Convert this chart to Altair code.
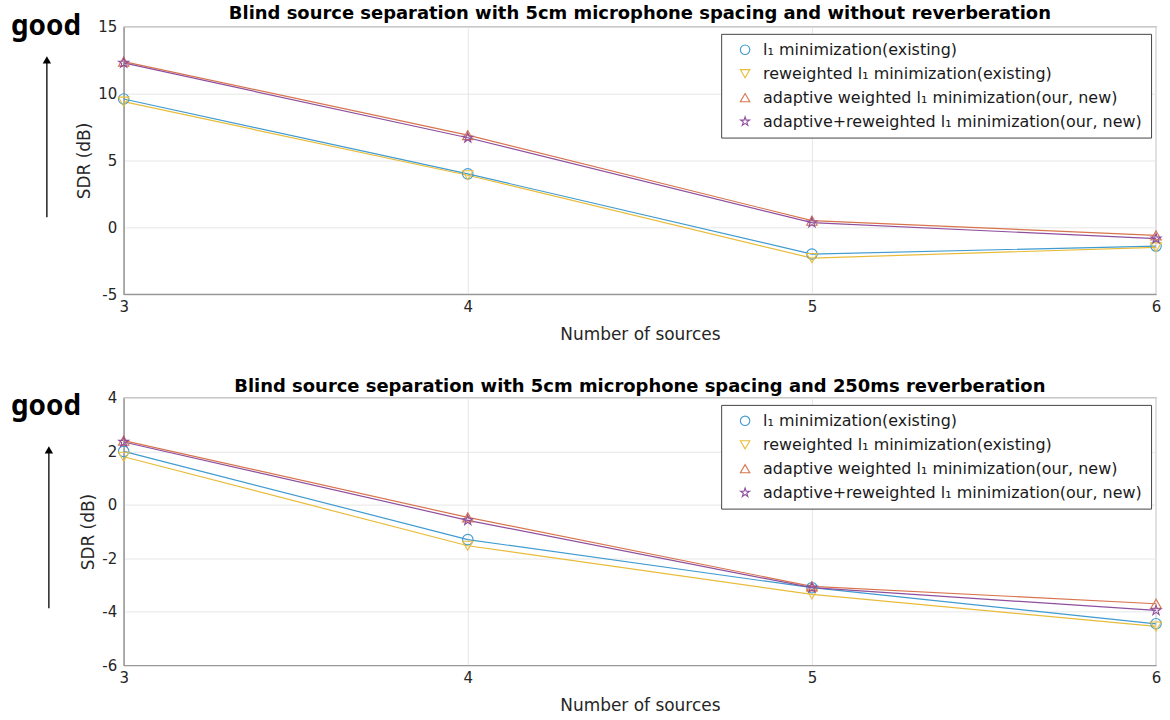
import altair as alt
import pandas as pd

sources = [3, 4, 5, 6]
series_names = [
    "l₁ minimization(existing)",
    "reweighted l₁ minimization(existing)",
    "adaptive weighted l₁ minimization(our, new)",
    "adaptive+reweighted l₁ minimization(our, new)",
]
colors = ["#3f9bd0", "#e8bc3a", "#d8744c", "#8e4f9e"]
star = "M0,-1L0.2245,-0.309L0.951,-0.309L0.363,0.118L0.588,0.809L0,0.382L-0.588,0.809L-0.363,0.118L-0.951,-0.309L-0.2245,-0.309Z"
shapes = ["circle", "triangle-down", "triangle-up", star]

# panel 1: no reverberation
p1_l1 = [9.6, 4.0, -2.0, -1.4]
p1_rw = [9.4, 3.9, -2.3, -1.5]
p1_ad = [12.4, 6.9, 0.5, -0.6]
p1_adrw = [12.3, 6.7, 0.35, -0.85]

# panel 2: 250ms reverberation
p2_l1 = [2.0, -1.3, -3.1, -4.45]
p2_rw = [1.8, -1.53, -3.35, -4.55]
p2_ad = [2.4, -0.47, -3.05, -3.7]
p2_adrw = [2.35, -0.58, -3.1, -3.95]

titles = [
    "Blind source separation with 5cm microphone spacing and without reverberation",
    "Blind source separation with 5cm microphone spacing and 250ms reverberation",
]

W, H = 1035, 268


def make_df(vals):
    rows = []
    for name, v in zip(series_names, vals):
        for x, y in zip(sources, v):
            rows.append({"n": x, "sdr": y, "series": name})
    return pd.DataFrame(rows)


def panel(vals, title, ydom, yvals, good_y, arrow_x, arrow_top, arrow_bottom, toff):
    df = make_df(vals)
    xenc = alt.X("n:Q", title="Number of sources",
                 scale=alt.Scale(domain=[3, 6], nice=False),
                 axis=alt.Axis(values=sources, labelExpr="toString(datum.value)",
                               labelFlush=False))
    yenc = alt.Y("sdr:Q", title="SDR (dB)",
                 scale=alt.Scale(domain=ydom, nice=False),
                 axis=alt.Axis(values=yvals, labelExpr="toString(datum.value)",
                               labelFlush=False))
    cscale = alt.Scale(domain=series_names, range=colors)
    sscale = alt.Scale(domain=series_names, range=shapes)
    base = alt.Chart(df)
    lines = base.mark_line(strokeWidth=1.2).encode(
        x=xenc, y=yenc,
        color=alt.Color("series:N", scale=cscale, title=None),
        detail="series:N",
    )
    pts = base.mark_point(filled=False, size=110, strokeWidth=1.1, opacity=1).encode(
        x="n:Q", y="sdr:Q",
        color=alt.Color("series:N", scale=cscale, title=None),
        shape=alt.Shape("series:N", scale=sscale, title=None),
    )
    one = pd.DataFrame({"a": [0]})
    good = alt.Chart(one).mark_text(
        text="good", align="left", baseline="top", font="Noto Sans",
        fontSize=28, fontWeight="bold", color="black"
    ).encode(x=alt.value(-113), y=alt.value(good_y))
    shaft = alt.Chart(one).mark_rule(color="black", strokeWidth=1.3).encode(
        x=alt.value(arrow_x), y=alt.value(arrow_top + 6), y2=alt.value(arrow_bottom)
    )
    head = alt.Chart(one).mark_point(
        shape="triangle-up", filled=True, color="black", size=70, opacity=1
    ).encode(x=alt.value(arrow_x), y=alt.value(arrow_top + 5))
    return alt.layer(lines, pts, good, shaft, head).properties(
        width=W, height=H,
        title=alt.TitleParams(title, fontSize=18, font="DejaVu Sans",
                              fontWeight="bold", color="black", offset=toff),
    )


top = panel([p1_l1, p1_rw, p1_ad, p1_adrw], titles[0], [-5, 15],
            [-5, 0, 5, 10, 15], -14, -77, 28, 191, -10)
bottom = panel([p2_l1, p2_rw, p2_ad, p2_adrw], titles[1], [-6, 4],
               [-6, -4, -2, 0, 2, 4], -5, -75, 47, 211, -5)

chart = alt.vconcat(top, bottom, spacing=34).resolve_scale(
    color="independent", shape="independent"
).resolve_legend(
    color="independent", shape="independent"
).properties(
    padding={"left": 10, "top": 3, "right": 5, "bottom": 5}
).configure_view(
    stroke="#8c8c8c", strokeWidth=1.2
).configure_axis(
    domainColor="#8c8c8c", gridColor="#e6e6e6", ticks=False,
    labelColor="#262626", labelFontSize=15, labelFont="DejaVu Sans",
    titleFont="DejaVu Sans", titleFontSize=17, titleFontWeight="normal",
    titleColor="#262626",
).configure_axisY(
    labelPadding=7, titlePadding=4,
).configure_axisX(
    labelPadding=5, titlePadding=12,
).configure_legend(
    orient="none", legendX=599, legendY=7, strokeColor="#444444",
    fillColor="white", padding=8, labelFontSize=16, labelFont="DejaVu Sans",
    labelColor="#1a1a1a", symbolStrokeWidth=1.1, symbolSize=90,
    rowPadding=8, labelLimit=0, symbolOffset=8, labelOffset=10,
).configure_title(anchor="middle")

chart.save("out.html", embed_options={"renderer": "svg", "actions": False})
